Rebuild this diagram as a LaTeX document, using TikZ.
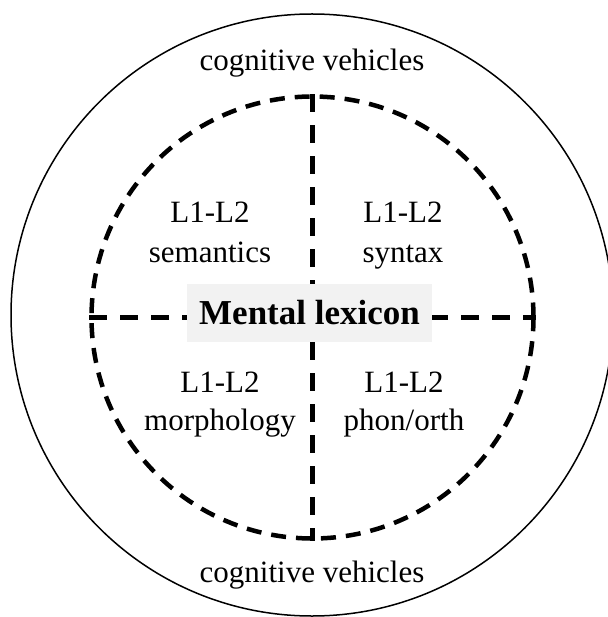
\documentclass[tikz,border=0pt]{standalone}
\usepackage{fontspec}
\setmainfont{Liberation Serif}

\begin{document}
\begin{tikzpicture}[x=1pt, y=-1pt,
    quadtext/.style={font=\fontsize{31}{37}\selectfont, inner sep=0pt, anchor=base},
    divider/.style={line width=4.5pt, dash pattern=on 18pt off 13pt}]
                \useasboundingbox (0, 0) rectangle (607, 617);
                % Outer ring
                \draw [black, line width=1.5pt] (312, 315) circle (301pt);
                \node [quadtext] (vehtop) at (312, 71) {cognitive vehicles};
                \node [quadtext] (vehbot) at (312, 582) {cognitive vehicles};
                % Inner ring and dividers
                \node [draw, black, circle, divider, dash pattern=on 15pt off 10pt,
                       minimum size=442pt, inner sep=0pt] (lexring) at (312.5, 317.5) {};
                \draw [black, divider] (lexring.west) -- (lexring.east);
                \draw [black, divider] (lexring.north) -- (lexring.south);
                % Centre label
                \node [fill=black!5, minimum width=245pt, minimum height=58pt, inner sep=0pt,
                       font=\fontsize{35}{40}\selectfont\bfseries] (lexicon) at (309.5, 313) {Mental lexicon};
                % Quadrants
                \node [quadtext] (semtop) at (210, 223) {L1-L2};
                \node [quadtext] (sembot) at (210, 262) {semantics};
                \node [quadtext] (syntop) at (403, 223) {L1-L2};
                \node [quadtext] (synbot) at (403, 262) {syntax};
                \node [quadtext] (mortop) at (220, 392) {L1-L2};
                \node [quadtext] (morbot) at (220, 430) {morphology};
                \node [quadtext] (photop) at (404, 392) {L1-L2};
                \node [quadtext] (phobot) at (404, 430) {phon/orth};
            \end{tikzpicture}
\end{document}
